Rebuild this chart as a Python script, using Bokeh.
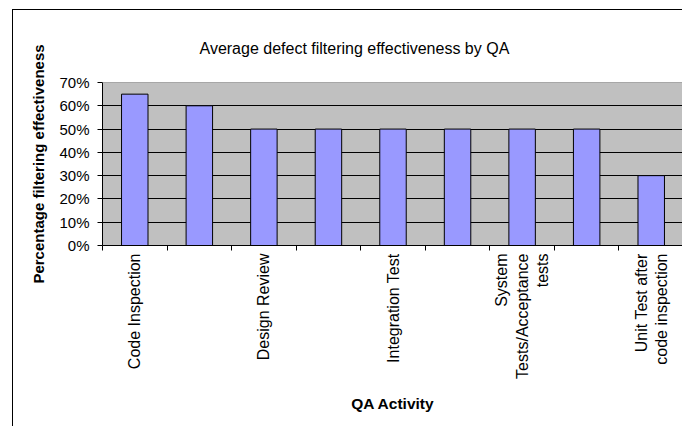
import math
from bokeh.plotting import figure
from bokeh.models import FixedTicker, NumeralTickFormatter, Span, ColumnDataSource
from bokeh.embed import file_html
from bokeh.resources import INLINE

# QA activities in chart order; blank entries are categories left unlabelled
activities = ["Code Inspection", "", "Design Review", "", "Integration Test", "",
              "System\nTests/Acceptance\ntests", "", "Unit Test after\ncode inspection"]
effectiveness = [0.65, 0.60, 0.50, 0.50, 0.50, 0.50, 0.50, 0.50, 0.30]
y_ticks = [0.0, 0.1, 0.2, 0.3, 0.4, 0.5, 0.6, 0.7]

positions = list(range(1, len(activities) + 1))
label_pos = [x for x, name in zip(positions, activities) if name]
boundaries = [x - 0.5 for x in positions] + [positions[-1] + 0.5]

FONT = "Liberation Sans"

p = figure(width=670, height=417, x_range=(0.5, len(activities) + 0.5), y_range=(0, y_ticks[-1]),
           output_backend="svg", toolbar_location=None,
           title="Average defect filtering effectiveness by QA",
           min_border_left=89, min_border_top=72, min_border_right=0, min_border_bottom=182)
# chart area border on the left and top edges
p.styles = {"margin-left": "12px", "margin-top": "9px",
            "border-left": "1px solid black", "border-top": "1px solid black"}
p.background_fill_color = "#C0C0C0"
p.border_fill_color = "white"
p.outline_line_color = None

p.title.align = "left"
p.title.offset = 97
p.title.standoff = 51
p.title.text_font = FONT
p.title.text_font_size = "16px"
p.title.text_font_style = "normal"
p.title.text_color = "black"

src = ColumnDataSource(dict(x=positions, top=effectiveness))
p.vbar(x="x", top="top", width=0.41, bottom=0, source=src,
       fill_color="#9999FF", line_color="black", line_width=1)

# horizontal gridlines
p.xgrid.visible = False
p.ygrid.ticker = FixedTicker(ticks=y_ticks[1:-1])
p.ygrid.grid_line_color = "black"
p.ygrid.grid_line_width = 1
p.add_layout(Span(location=y_ticks[-1], dimension="width", line_color="#707070", line_width=1))

# y axis
ya = p.yaxis[0]
ya.ticker = FixedTicker(ticks=y_ticks)
ya.formatter = NumeralTickFormatter(format="0%")
ya.axis_line_color = "black"
ya.major_tick_out = 5
ya.major_tick_in = 0
ya.minor_tick_out = 0
ya.minor_tick_in = 0
ya.major_label_standoff = 8
ya.major_label_text_font = FONT
ya.major_label_text_font_size = "15px"
ya.major_label_text_color = "black"
ya.axis_label = "Percentage filtering effectiveness"
ya.axis_label_text_font = FONT
ya.axis_label_text_font_size = "15px"
ya.axis_label_text_font_style = "bold"
ya.axis_label_text_color = "black"
ya.axis_label_standoff = 9

# x axis: labels at category centres, tick marks between categories
xa = p.xaxis[0]
xa.ticker = FixedTicker(ticks=label_pos, minor_ticks=boundaries)
xa.major_label_overrides = {x: activities[x - 1] for x in label_pos}
xa.major_label_orientation = math.pi / 2
xa.axis_line_color = "black"
xa.major_tick_out = 0
xa.major_tick_in = 0
xa.minor_tick_out = 5
xa.minor_tick_in = 0
xa.minor_tick_line_color = "black"
xa.major_label_standoff = 3
xa.major_label_text_font = FONT
xa.major_label_text_font_size = "16px"
xa.major_label_text_color = "black"
xa.axis_label = "QA Activity"
xa.axis_label_text_font = FONT
xa.axis_label_text_font_size = "15.5px"
xa.axis_label_text_font_style = "bold"
xa.axis_label_text_color = "black"
xa.axis_label_standoff = 13

open("out.html", "w").write(file_html(p, INLINE))
